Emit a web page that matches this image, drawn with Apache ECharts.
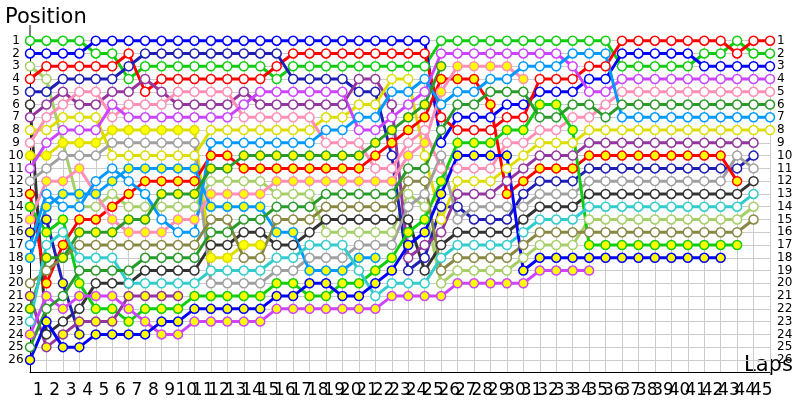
<!DOCTYPE html>
<html>
<head>
<meta charset="utf-8">
<script src="https://cdn.jsdelivr.net/npm/echarts@6/dist/echarts.min.js"></script>
<style>
  html, body { margin: 0; background: #fff; }
  #chart { width: 800px; height: 400px; }
</style>
</head>
<body>
<div id="chart"></div>
<script>
// bottom axis labels (laps)
var lapLabels = ['1','2','3','4','5','6','7','8','9','10','11','12','13','14','15',
  '16','17','18','19','20','21','22','23','24','25','26','27','28','29','30',
  '31','32','33','34','35','36','37','38','39','40','41','42','43','44','45'];

// position of each car per lap, index 0 = grid
var posGreen      = [1,1,1,1,2,2,4,3,3,3, 3,3,3,3,3,4,3,3,3,3, 3,3,3,3,3,1,1,1,1,1, 1,1,1,1,1,1,3,3,3,3, 3,2,2,1,2,2];
var posBlue       = [2,2,2,2,1,1,1,1,1,1, 1,1,1,1,1,1,1,1,1,1, 1,1,1,1,1,9,7,7,7,6, 6,5,5,5,4,4,2,2,2,2, 2,3,3,3,3,3];
var posPaleGreen  = [3,4,9,14,14,13,14,14,14,14, 14,12,12,12,12,13,13,13,16,16, 16,16,16,13,14,20,19,19,19,19, 18,17,17,17,15,15,15,15,15,15, 15,15,15,15,14];
var posRed        = [4,3,3,3,3,3,2,5,4,4, 4,4,4,4,4,3,2,2,2,2, 2,2,2,2,2,7,8,8,8,7, 7,4,4,4,3,3,1,1,1,1, 1,1,1,2,1,1];
var posNavy       = [5,5,4,4,4,4,3,2,2,2, 2,2,2,2,2,2,4,4,4,4, 5,5,10,19,18,14,14,15,15,15, 13,12,12,12,11,11,11,11,11,11, 11,11,11,11,10];
var posBlack      = [6,24,23,22,20,20,20,19,19,19, 19,17,17,16,16,17,17,16,15,15, 15,15,15,15,19,17,16,16,16,16, 15,14,14,14,13,13,13,13,13,13, 13,13,13,13,12];
var posPurple     = [7,6,5,6,6,5,5,4,5,6, 6,6,6,5,6,6,6,6,6,6, 4,4,6,18,17,16,13,13,13,12, 11,10,10,10,9,9,9,9,9,9, 9,9,9,9,9];
var posYellow     = [8,8,7,7,7,10,10,10,10,10, 10,8,8,8,8,8,8,8,7,7, 6,6,4,4,10,15,12,12,12,11, 10,9,9,9,8,8,8,8,8,8, 8,8,8,8,8,8];
var posPink       = [9,7,6,5,5,7,6,6,6,5, 5,5,5,7,7,7,7,7,9,9, 9,11,11,9,8,11,11,11,11,9, 9,8,8,7,7,6,5,5,5,5, 5,5,5,5,5,5];
var posYellowB    = [10,10,9,9,9,8,8,8,8,8, 8,18,18,17,17];
var posViolet     = [11,9,8,8,8,6,7,7,7,7, 7,7,7,6,5,5,5,5,5,5, 8,8,7,6,5,2,2,2,2,2, 2,2,2,3,5,5,4,4,4,4, 4,4,4,4,4,4];
var posGrey       = [12,11,10,10,10,9,9,9,9,9, 9,20,20,20,20,19,19,18,18,18, 17,17,17,14,13,10,15,14,14,14, 14,13,13,13,12,12,12,12,12,12, 12,12,12,10,11];
var posRedB       = [13,20,17,15,15,14,13,12,12,12, 12,10,10,11,11,11,11,11,11,11, 11,10,9,8,7,4,4,4,6,13, 12,11,11,11,10,10,10,10,10,10, 10,10,10,12];
var posGreenB     = [14,16,15,20,22,22,23,22,22,22, 21,21,21,21,21,20,20,21,21,20, 20,19,18,16,15,12,9,9,9,8, 8,6,6,8,17,17,17,17,17,17, 17,17,17,17];
var posPinkB      = [15,12,12,11,13,15,16,16,16,15, 15,13,13,13,13,12,12,12,12,12, 12,12,12,10,9,5,3,3,3,3, 4];
var posNavyB      = [16,15,20,24];
var posSky        = [17,13,14,14,12,11,12,13,15,16, 16,9,9,9,9,9,9,9,8,8, 7,7,5,5,4,6,5,5,4,4, 3,3,3,2,2,2,7,7,7,7, 7,7,7,7,7,7];
var posSkyB       = [18,14,13,13,13,12,11,11,11,11, 11,14,14,14,14,16,16,19,19,19, 18,18];
var posOlive      = [20,19,18,17,17,17,17,17,17,17, 17,15,15,18,18,15,15,15,14,14, 14,14,14,12,12,19,18,18,18,18, 17,16,16,16,16,16,16,16,16,16, 16,16,16,16,15];
var posPurpleB    = [21,25,24,23,23,23,21,21,21,21];
var posForestB    = [22,18,18,16,16,16,15,15,13,13, 13,11,11,10,10,10,10,10,10,10, 10,9,8,7,6,3];
var posCyan       = [23,17,16,18,18,18,20,20,20,20, 20,19,19,19,19,18,18,17,17,17, 19,21,20,20,20,18,17,17,17,17, 16,15,15,15,14,14,14,14,14,14, 14,14,14,14,13];
var posVioletB    = [24,21,22,21,21,21,22,23,24,24, 23,23,23,23,23,22,22,22,22,22, 22,22,21,21,21,21,20,20,20,20, 20,19,19,19,19];
var posForest     = [25,22,21,19,19,19,19,18,18,18, 18,16,16,15,15,14,14,14,13,13, 13,13,13,11,11,8,6,6,5,5, 5,7,7,6,6,7,6,6,6,6, 6,6,6,6,6,6];
var posBlueB      = [26,23,25,25,24,24,24,24,23,23, 22,22,22,22,22,21,21,20,20,21, 21,20,19,17,16,13,10,10,10,10, 19,18,18,18,18,18,18,18,18,18, 18,18,18];

// line colour and whether the markers are filled yellow
var cars = [
  { pos: posGreen,     color: '#11cc11', filled: false },
  { pos: posBlue,      color: '#0000ff', filled: false },
  { pos: posPaleGreen, color: '#a6cf6a', filled: false },
  { pos: posRed,       color: '#ff0000', filled: false },
  { pos: posNavy,      color: '#1f1fb4', filled: false },
  { pos: posBlack,     color: '#333333', filled: false },
  { pos: posPurple,    color: '#93369f', filled: false },
  { pos: posYellow,    color: '#dddd00', filled: false },
  { pos: posPink,      color: '#ff8fb4', filled: false },
  { pos: posYellowB,   color: '#dddd00', filled: true },
  { pos: posViolet,    color: '#cc44ff', filled: false },
  { pos: posGrey,      color: '#a0a0a0', filled: false },
  { pos: posRedB,      color: '#ff0000', filled: true },
  { pos: posGreenB,    color: '#11cc11', filled: true },
  { pos: posPinkB,     color: '#ff8fb4', filled: true },
  { pos: posNavyB,     color: '#1f1fb4', filled: true },
  { pos: posSky,       color: '#0099ff', filled: false },
  { pos: posSkyB,      color: '#0099ff', filled: true },
  { pos: posOlive,     color: '#888844', filled: false },
  { pos: posPurpleB,   color: '#93369f', filled: true },
  { pos: posForestB,   color: '#2a9a2a', filled: true },
  { pos: posCyan,      color: '#33cccc', filled: false },
  { pos: posVioletB,   color: '#cc44ff', filled: true },
  { pos: posForest,    color: '#2a9a2a', filled: false },
  { pos: posBlueB,     color: '#0000ff', filled: true }
];

var series = cars.map(function (c) {
  return {
    type: 'line',
    xAxisIndex: 1,
    yAxisIndex: 0,
    data: c.pos.map(function (p, lap) { return [lap, p]; }),
    symbol: 'circle',
    symbolSize: 9,
    clip: false,
    lineStyle: { color: c.color, width: 3 },
    itemStyle: { color: c.filled ? '#ffff00' : '#ffffff', borderColor: c.color, borderWidth: 1.5 },
    emphasis: { disabled: true }
  };
});

function posLabel(v) { return v <= 26 ? String(v) : ''; }

var chart = echarts.init(document.getElementById('chart'));
chart.setOption({
  animation: false,
  textStyle: { fontFamily: 'DejaVu Sans' },
  grid: { left: 30, right: 30, top: 40.7, bottom: 27.3 },
  xAxis: [
    {
      type: 'category',
      data: lapLabels,
      boundaryGap: true,
      position: 'bottom',
      axisLine: { onZero: false, lineStyle: { color: '#000' } },
      axisTick: { show: false },
      axisLabel: { interval: 0, fontSize: 17, color: '#000', margin: 9 },
      splitLine: { show: false }
    },
    {
      type: 'value',
      min: 0, max: 45, interval: 1,
      position: 'top',
      axisLine: { show: false },
      axisTick: { show: false },
      axisLabel: { show: false },
      splitLine: { show: true, lineStyle: { color: '#cccccc' } }
    }
  ],
  yAxis: [
    {
      type: 'value',
      inverse: true,
      min: 1, max: 27, interval: 1,
      position: 'left',
      axisLine: { show: true, onZero: false, lineStyle: { color: '#000' } },
      axisTick: { show: false },
      axisLabel: { formatter: posLabel, align: 'center', margin: 14, fontSize: 12, lineHeight: 11,
        color: '#000', showMinLabel: true, hideOverlap: false },
      splitLine: { show: true, lineStyle: { color: '#cccccc' } }
    },
    {
      type: 'value',
      inverse: true,
      min: 1, max: 27, interval: 1,
      position: 'right',
      axisLine: { show: false },
      axisTick: { show: false },
      axisLabel: { formatter: posLabel, align: 'left', margin: 7, fontSize: 12, lineHeight: 11,
        color: '#000', showMinLabel: true, hideOverlap: false },
      splitLine: { show: false }
    }
  ],
  graphic: [
    { type: 'line', shape: { x1: 30, y1: 25, x2: 30, y2: 41 }, style: { stroke: '#000', lineWidth: 1 } },
    { type: 'text', left: 5, top: 7, style: { text: 'Position', font: '21px "DejaVu Sans"', fill: '#000' } },
    { type: 'text', left: 744, top: 355, style: { text: 'Laps', font: '21px "DejaVu Sans"', fill: '#000' } }
  ],
  series: series
});
</script>
</body>
</html>
